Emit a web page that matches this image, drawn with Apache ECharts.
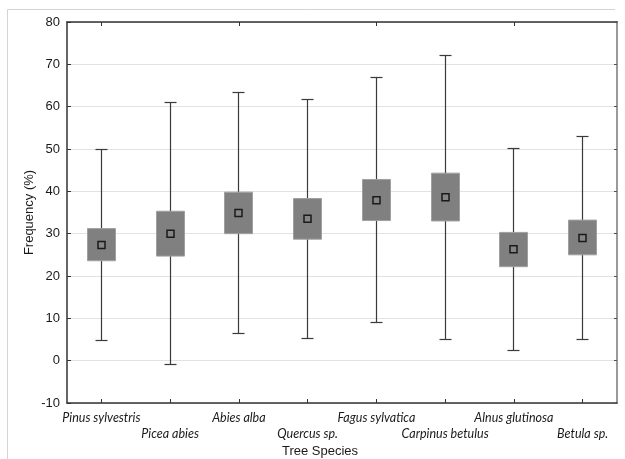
<!DOCTYPE html>
<html>
<head>
<meta charset="utf-8">
<title>Tree Species Frequency</title>
<script src="https://cdn.jsdelivr.net/npm/echarts@6/dist/echarts.min.js"></script>
<style>
  html, body { margin: 0; padding: 0; background: #ffffff; }
  #chart { width: 625px; height: 459px; }
</style>
</head>
<body>
<div id="chart"></div>
<script>
// Frequency (%) summary per tree species
const categories = ['Pinus sylvestris', 'Picea abies', 'Abies alba', 'Quercus sp.',
  'Fagus sylvatica', 'Carpinus betulus', 'Alnus glutinosa', 'Betula sp.'];
const whiskerMax = [49.8, 61.0, 63.4, 61.6, 66.8, 72.2, 50.1, 53.0];
const boxTop     = [31.2, 35.3, 39.8, 38.3, 42.8, 44.3, 30.3, 33.2];
const meanValue  = [27.3, 30.0, 34.9, 33.5, 37.9, 38.6, 26.3, 29.0];
const boxBottom  = [23.6, 24.7, 30.0, 28.7, 33.1, 33.0, 22.2, 25.0];
const whiskerMin = [4.8, -1.0, 6.5, 5.3, 9.1, 5.0, 2.4, 5.0];
const yTicks = { min: -10, max: 80, interval: 10 };

const seriesData = categories.map((c, i) =>
  [i, whiskerMin[i], boxBottom[i], meanValue[i], boxTop[i], whiskerMax[i]]);

function snap(v) { return Math.round(v - 0.5) + 0.5; }

function renderItem(params, api) {
  const i = api.value(0);
  const xc = snap(api.coord([i, 0])[0]);
  const band = api.size([1, 0])[0];
  const bw = Math.round(band * 0.41);
  const cw = 12;
  const yMin = snap(api.coord([i, api.value(1)])[1]);
  const yQ1 = api.coord([i, api.value(2)])[1];
  const yMean = api.coord([i, api.value(3)])[1];
  const yQ3 = api.coord([i, api.value(4)])[1];
  const yMax = snap(api.coord([i, api.value(5)])[1]);
  const lineStyle = { stroke: '#3a3a3a', lineWidth: 1.2 };
  const ms = 7;
  return {
    type: 'group',
    children: [
      { type: 'line', shape: { x1: xc, y1: yMin, x2: xc, y2: yMax }, style: lineStyle },
      { type: 'line', shape: { x1: xc - cw / 2, y1: yMax, x2: xc + cw / 2, y2: yMax }, style: lineStyle },
      { type: 'line', shape: { x1: xc - cw / 2, y1: yMin, x2: xc + cw / 2, y2: yMin }, style: lineStyle },
      { type: 'rect', shape: { x: xc - bw / 2, y: yQ3, width: bw, height: yQ1 - yQ3 },
        style: { fill: '#808080', stroke: '#a0a0a0', lineWidth: 1 } },
      { type: 'rect', shape: { x: xc - ms / 2, y: yMean - ms / 2, width: ms, height: ms },
        style: { fill: '#858585', stroke: '#1a1a1a', lineWidth: 1.5 } }
    ]
  };
}

const chart = echarts.init(document.getElementById('chart'), null, { renderer: 'canvas' });

const axisDark = { onZero: false, lineStyle: { color: '#333333', width: 1.5 } };
const tickInside = { show: true, inside: true, length: 4, lineStyle: { color: '#333333', width: 1 } };

chart.setOption({
  animation: false,
  backgroundColor: '#ffffff',
  grid: { left: 67, right: 8, top: 22, bottom: 56, outerBoundsMode: 'none', containLabel: false },
  graphic: [
    { type: 'line', silent: true, shape: { x1: 7.5, y1: 9.5, x2: 615, y2: 9.5 },
      style: { stroke: '#d4d4d4', lineWidth: 1 } },
    { type: 'line', silent: true, shape: { x1: 7.5, y1: 9.5, x2: 7.5, y2: 459 },
      style: { stroke: '#d4d4d4', lineWidth: 1 } }
  ],
  xAxis: [
    {
      type: 'category',
      data: categories,
      position: 'bottom',
      boundaryGap: true,
      axisLine: axisDark,
      axisTick: Object.assign({ alignWithLabel: true }, tickInside),
      axisLabel: {
        interval: 0,
        margin: 7,
        fontFamily: 'Lato',
        fontStyle: 'italic',
        fontSize: 12.5,
        lineHeight: 16,
        color: '#1a1a1a',
        formatter: (v, i) => (i % 2 === 1 ? '\n' + v : v)
      },
      splitLine: { show: false },
      name: 'Tree Species',
      nameLocation: 'middle',
      nameGap: 42,
      nameMoveOverlap: false,
      nameTextStyle: {
        fontFamily: 'Liberation Sans',
        fontSize: 13,
        color: '#1a1a1a',
        padding: [0, 44, 0, 0]
      }
    },
    {
      type: 'category',
      data: categories,
      position: 'top',
      boundaryGap: true,
      axisLine: axisDark,
      axisTick: Object.assign({ alignWithLabel: true }, tickInside),
      axisLabel: { show: false },
      splitLine: { show: false }
    }
  ],
  yAxis: [
    {
      type: 'value',
      min: yTicks.min,
      max: yTicks.max,
      interval: yTicks.interval,
      position: 'left',
      axisLine: { show: true, onZero: false, lineStyle: { color: '#333333', width: 1.5 } },
      axisTick: tickInside,
      axisLabel: {
        margin: 7,
        fontFamily: 'Liberation Sans',
        fontSize: 13,
        color: '#1a1a1a'
      },
      splitLine: { show: true, lineStyle: { color: '#e2e2e2', width: 1 } },
      name: 'Frequency (%)',
      nameLocation: 'middle',
      nameGap: 31,
      nameRotate: 90,
      nameMoveOverlap: false,
      nameTextStyle: {
        fontFamily: 'Liberation Sans',
        fontSize: 13,
        color: '#1a1a1a'
      }
    },
    {
      type: 'value',
      min: yTicks.min,
      max: yTicks.max,
      interval: yTicks.interval,
      position: 'right',
      axisLine: { show: true, onZero: false, lineStyle: { color: '#9a9a9a', width: 2 } },
      axisTick: { show: true, inside: true, length: 3, lineStyle: { color: '#555555', width: 1 } },
      axisLabel: { show: false },
      splitLine: { show: false }
    }
  ],
  series: [
    {
      type: 'custom',
      name: 'Frequency',
      xAxisIndex: 0,
      yAxisIndex: 0,
      renderItem: renderItem,
      encode: { x: 0, y: [1, 2, 3, 4, 5] },
      data: seriesData,
      z: 5
    }
  ]
});
</script>
</body>
</html>
